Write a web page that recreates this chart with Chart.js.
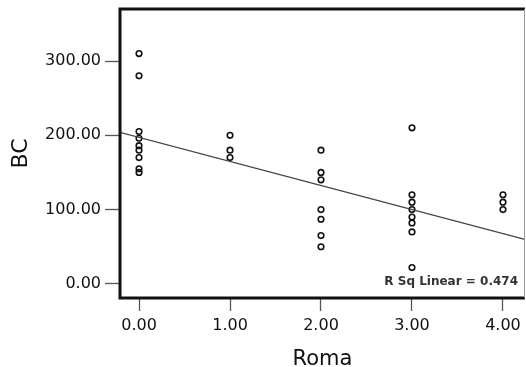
<!DOCTYPE html>
<html>
<head>
<meta charset="utf-8">
<script src="https://cdn.jsdelivr.net/npm/chart.js@4/dist/chart.umd.min.js"></script>
<style>
  html, body { margin: 0; padding: 0; background: #fff; }
  #wrap { width: 526px; height: 367px; position: relative; }
</style>
</head>
<body>
<div id="wrap"><canvas id="chart-scatter"></canvas></div>
<script>
// 読み取った値（Roma ごとの BC）
const romaLevels = [0, 1, 2, 3, 4];
const bcRoma0 = [310, 280, 205, 196, 186, 180, 170, 155, 150];
const bcRoma1 = [200, 180, 170];
const bcRoma2 = [180, 150, 140, 100, 87, 65, 50];
const bcRoma3 = [210, 120, 110, 100, 90, 82, 70, 22];
const bcRoma4 = [120, 110, 100];

// 回帰直線（プロット端での値）
const fitRoma = [-0.21, 4.24];
const fitBC = [204, 60];
const rSqLabel = 'R Sq Linear = 0.474';

const xTicks = [0, 1, 2, 3, 4];
const yTicks = [0, 100, 200, 300];

const groups = [bcRoma0, bcRoma1, bcRoma2, bcRoma3, bcRoma4];
const points = [];
groups.forEach((vals, i) => {
  vals.forEach((v) => points.push({ x: romaLevels[i], y: v }));
});

const FONT = "'DejaVu Sans', sans-serif";

// 枠線と R Sq ラベル
const framePlugin = {
  id: 'frame',
  afterDraw(chart) {
    const { ctx, chartArea: { left, top, right, bottom } } = chart;
    ctx.save();
    ctx.strokeStyle = '#111';
    ctx.lineWidth = 3;
    ctx.beginPath();
    ctx.moveTo(right, top);
    ctx.lineTo(left, top);
    ctx.lineTo(left, bottom);
    ctx.lineTo(right, bottom);
    ctx.stroke();
    ctx.strokeStyle = '#999';
    ctx.lineWidth = 1;
    ctx.beginPath();
    ctx.moveTo(right - 0.5, top);
    ctx.lineTo(right - 0.5, bottom);
    ctx.stroke();
    ctx.fillStyle = '#333';
    ctx.font = "bold 12px " + FONT;
    ctx.textAlign = 'right';
    ctx.textBaseline = 'middle';
    ctx.fillText(rSqLabel, right - 7, bottom - 16);
    ctx.restore();
  },
};

new Chart(document.getElementById('chart-scatter'), {
  type: 'scatter',
  data: {
    datasets: [
      {
        type: 'line',
        data: fitRoma.map((x, i) => ({ x, y: fitBC[i] })),
        borderColor: '#444',
        borderWidth: 1.2,
        pointRadius: 0,
        fill: false,
      },
      {
        data: points,
        pointStyle: 'circle',
        pointRadius: 2.8,
        borderWidth: 1.6,
        borderColor: '#111',
        backgroundColor: 'transparent',
      },
    ],
  },
  options: {
    responsive: true,
    maintainAspectRatio: false,
    animation: false,
    layout: {
      autoPadding: false,
      padding: { top: 9, right: 1, left: 0, bottom: 0 },
    },
    plugins: {
      legend: { display: false },
      tooltip: { enabled: false },
    },
    scales: {
      x: {
        type: 'linear',
        min: -0.209,
        max: 4.242,
        afterBuildTicks: (axis) => { axis.ticks = xTicks.map((v) => ({ value: v })); },
        afterFit: (axis) => {
          axis.height = 69;
          axis.paddingLeft = 0;
          axis.paddingRight = 0;
        },
        border: { display: false },
        grid: {
          drawOnChartArea: false,
          drawTicks: true,
          tickLength: 13,
          tickColor: '#555',
          tickWidth: 1.3,
        },
        ticks: {
          padding: 5,
          color: '#111',
          font: { family: FONT, size: 16 },
          maxRotation: 0,
          callback: (v) => v.toFixed(2),
        },
        title: {
          display: true,
          text: 'Roma',
          color: '#111',
          font: { family: FONT, size: 21 },
          padding: { top: 0, bottom: -5 },
        },
      },
      y: {
        type: 'linear',
        min: -19,
        max: 370,
        afterBuildTicks: (axis) => { axis.ticks = yTicks.map((v) => ({ value: v })); },
        afterFit: (axis) => {
          axis.width = 120;
          axis.paddingTop = 0;
          axis.paddingBottom = 0;
        },
        border: { display: false },
        grid: {
          drawOnChartArea: false,
          drawTicks: true,
          tickLength: 15,
          tickColor: '#555',
          tickWidth: 1.3,
        },
        ticks: {
          padding: 4,
          color: '#111',
          font: { family: FONT, size: 16 },
          callback: (v) => v.toFixed(2),
        },
        title: {
          display: true,
          text: 'BC',
          color: '#111',
          font: { family: FONT, size: 22 },
          padding: { top: 8, bottom: 0 },
        },
      },
    },
  },
  plugins: [framePlugin],
});
</script>
</body>
</html>
